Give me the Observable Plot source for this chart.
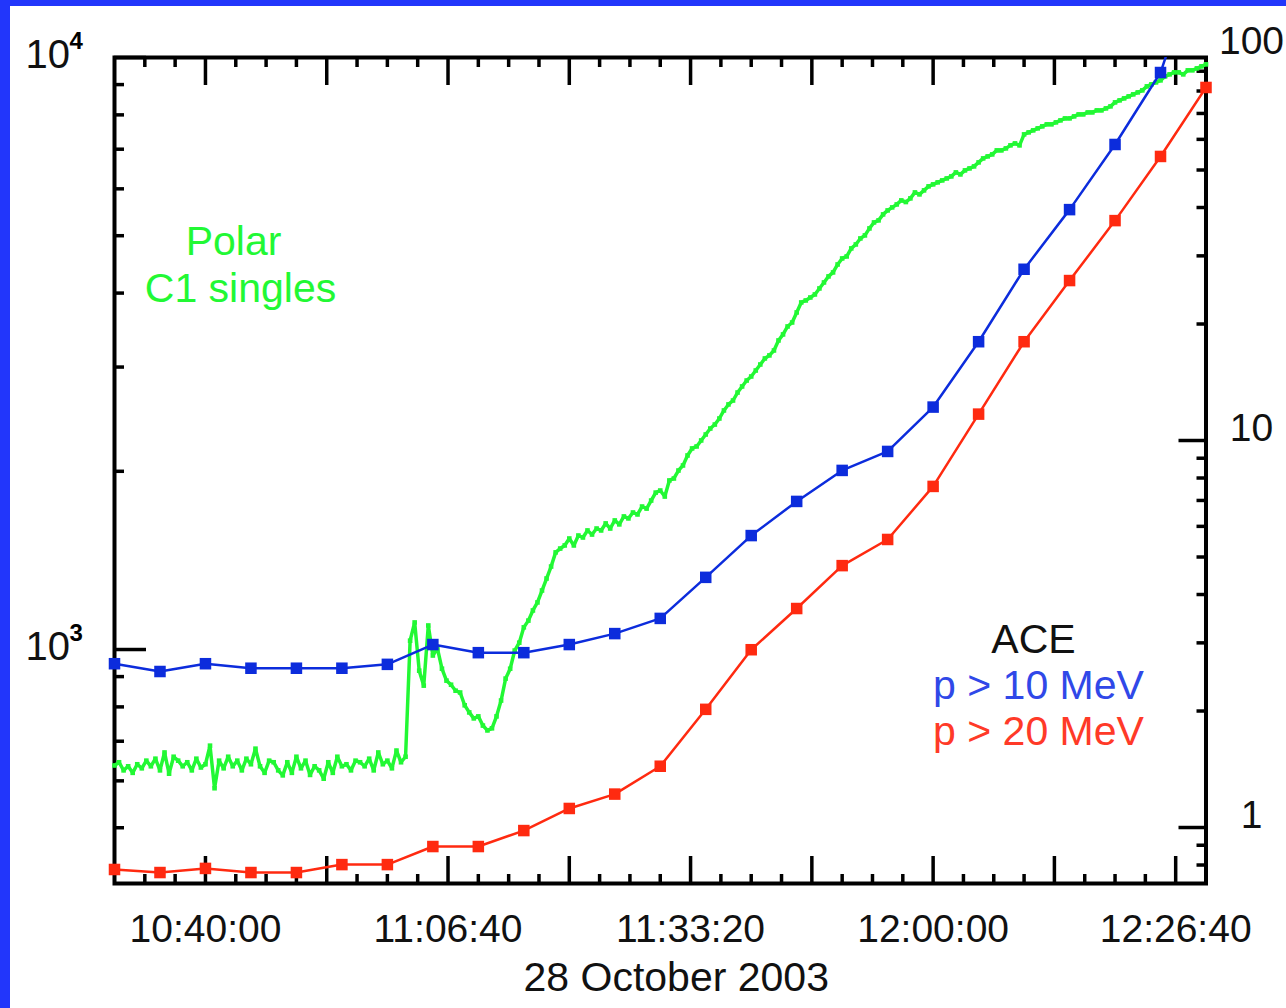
<!DOCTYPE html>
<html><head><meta charset="utf-8">
<script src="https://cdn.jsdelivr.net/npm/d3@7"></script>
<script src="https://cdn.jsdelivr.net/npm/@observablehq/plot@0.6"></script>
<style>
html,body{margin:0;padding:0;background:#fff;}
#wrap{position:relative;width:1286px;height:1008px;overflow:hidden;background:#fff;}
.bl{position:absolute;left:0;top:0;width:10px;height:1008px;background:#2236fb;}
.bt{position:absolute;left:0;top:0;width:1286px;height:6px;background:#2236fb;}
</style></head><body>
<div id="wrap"><div id="chart"></div><div class="bl"></div><div class="bt"></div></div>
<script>
// ---------- data ----------
const day = "2003-10-28";
const xDomain = ["10:30:00", "12:30:00"];

// ACE proton flux (right axis), 5-minute samples
const aceTimes = ["10:30","10:35","10:40","10:45","10:50","10:55","11:00","11:05","11:10","11:15",
  "11:20","11:25","11:30","11:35","11:40","11:45","11:50","11:55","12:00","12:05",
  "12:10","12:15","12:20","12:25","12:30"];
const aceP10 = [2.65,2.53,2.65,2.58,2.58,2.58,2.64,2.97,2.83,2.83,
  2.97,3.17,3.47,4.43,5.68,6.96,8.37,9.37,12.2,18.0,
  27.7,39.5,58.2,89.3,200];
const aceP20 = [0.779,0.765,0.784,0.765,0.765,0.802,0.802,0.893,0.893,0.982,
  1.12,1.22,1.44,2.02,2.88,3.68,4.75,5.55,7.61,11.7,
  18.0,25.9,37.0,54.2,81.7];

// Polar C1 singles (left axis), 30-second samples from 10:30:00
const polarStart = "10:30:00";
const polarStepSeconds = 30;
const polarCounts = [
  637,645,625,635,619,640,630,649,635,654,
  625,670,617,659,649,635,645,625,654,632,
  640,688,583,649,630,659,635,649,625,654,
  640,680,635,619,649,645,625,613,645,619,
  659,630,649,614,635,625,605,645,619,659,
  635,640,625,649,645,635,654,625,670,640,
  649,630,675,645,659,
  1035,1111,921,869,1098,977,1004,928,886,872,
  852,846,805,783,765,771,744,730,736,771,
  820,893,928,996,1027,1090,1119,1164,1201,1258,
  1318,1381,1459,1481,1499,
  1540,1499,1558,1546,1589,1564,1601,1589,1633,1601,
  1652,1627,1678,1665,1704,1691,1744,1730,1785,1841,
  1856,1813,1930,1945,2006,2046,2127,2186,2203,2255,
  2308,2362,2399,2456,2534,2594,2634,2717,2782,2847,
  2892,2960,3030,3102,3139,3200,3327,3406,3513,3568,
  3710,3857,3887,3932,3979,4073,4169,4268,4335,4471,
  4577,4613,4759,4833,4947,5006,5144,5265,5307,5432,
  5517,5582,5647,5736,5700,5781,5917,5872,5964,6058,
  6105,6153,6200,6248,6297,6396,6346,6446,6496,6547,
  6650,6754,6807,6860,6968,6968,7022,7105,7160,7105,
  7415,7473,7532,7591,7650,7710,7710,7770,7830,7891,
  7891,7953,8015,8015,8077,8077,8141,8141,8204,8269,
  8398,8464,8530,8597,8664,8731,8800,8938,9008,9078,
  9149,9293,9365,9438,9438,9365,9512,9512,9586,9661,
  9737];

// axes
const leftDomain = [402.5, 10000];
const rightDomain = [0.7167, 97.65];
const xLabelTicks = ["10:40:00","11:06:40","11:33:20","12:00:00","12:26:40"];
const xMajorTicks = ["10:40:00","10:53:20","11:06:40","11:20:00","11:33:20","11:46:40","12:00:00","12:13:20","12:26:40"];
const xMinorStepSeconds = 200;
const leftMajorTicks = [1000, 10000];
const leftLabelBase = "10";
const leftLabelExp = ["3", "4"];
const leftMinorTicks = [500,600,700,800,900,2000,3000,4000,5000,6000,7000,8000,9000];
const rightMajorTicks = [1, 10];
const rightLabels = [1, 10, 100];
const rightMinorTicks = [0.8,0.9,2,3,4,5,6,7,8,9,20,30,40,50,60,70,80,90];
const xTitle = "28 October 2003";
const polarLabel = ["Polar", "C1 singles"];
const aceLabel = ["ACE", "p > 10 MeV", "p > 20 MeV"];

// ---------- build ----------
const GREEN = "#22f834", BLUE = "#0c2cdc", RED = "#ff2a10", INK = "#111";
const parse = t => new Date(`${day}T${t.length === 5 ? t + ":00" : t}Z`);
const t0 = parse(xDomain[0]), t1 = parse(xDomain[1]);
const p0 = parse(polarStart);

const polar = polarCounts.map((v, i) => ({t: new Date(+p0 + i * polarStepSeconds * 1000), v}));
const ace = aceTimes.map((t, i) => ({t: parse(t), p10: aceP10[i], p20: aceP20[i]}));

// secondary (right) log axis mapped onto the left log scale
const L0 = Math.log10(leftDomain[0]), L1 = Math.log10(leftDomain[1]);
const R0 = Math.log10(rightDomain[0]), R1 = Math.log10(rightDomain[1]);
const rightToLeft = v => 10 ** (L0 + (Math.log10(v) - R0) / (R1 - R0) * (L1 - L0));

const xMajorDates = xMajorTicks.map(parse);
const majorSet = new Set(xMajorDates.map(d => +d));
const xMinorDates = d3.range(+t0, +t1 + 1, xMinorStepSeconds * 1000).filter(ms => !majorSet.has(ms) && ms > +t0 && ms < +t1).map(ms => new Date(ms));

const W = 1286, H = 1008, mL = 114, mR = 80.5, mT = 57, mB = 125;
const iW = W - mL - mR, iH = H - mT - mB;
const FONT = "'Liberation Sans', Arial, Helvetica, sans-serif";
const txt = {textAnchor: "middle", lineAnchor: "middle"};

const chart = Plot.plot({
  width: W, height: H,
  marginLeft: mL, marginRight: mR, marginTop: mT, marginBottom: mB,
  style: {background: "#fff", fontFamily: FONT, overflow: "visible"},
  x: {type: "utc", domain: [t0, t1], axis: null},
  y: {type: "log", domain: leftDomain, axis: null},
  marks: [
    // ticks (inward)
    Plot.tickX(xMajorDates, {x: d => d, insetTop: iH - 27, stroke: "#000", strokeWidth: 3.5}),
    Plot.tickX(xMajorDates, {x: d => d, insetBottom: iH - 28, stroke: "#000", strokeWidth: 3.5}),
    Plot.tickX(xMinorDates, {x: d => d, insetTop: iH - 9, stroke: "#000", strokeWidth: 3.5}),
    Plot.tickX(xMinorDates, {x: d => d, insetBottom: iH - 10, stroke: "#000", strokeWidth: 3.5}),
    Plot.tickY(leftMajorTicks, {y: d => d, insetRight: iW - 32, stroke: "#000", strokeWidth: 3.5}),
    Plot.tickY(leftMinorTicks, {y: d => d, insetRight: iW - 10, stroke: "#000", strokeWidth: 3.5}),
    Plot.tickY(rightMajorTicks, {y: d => rightToLeft(d), insetLeft: iW - 27, stroke: "#000", strokeWidth: 3.5}),
    Plot.tickY(rightMinorTicks, {y: d => rightToLeft(d), insetLeft: iW - 9, stroke: "#000", strokeWidth: 3.5}),
    Plot.frame({stroke: "#000", strokeWidth: 4}),

    // Polar C1 singles
    Plot.line(polar, {x: "t", y: "v", stroke: GREEN, strokeWidth: 3.5, clip: true}),
    Plot.dot(polar, {x: "t", y: "v", fill: GREEN, symbol: "square", r: 2.6}),

    // ACE p > 10 MeV
    Plot.line(ace, {x: "t", y: d => rightToLeft(d.p10), stroke: BLUE, strokeWidth: 2.5, clip: true}),
    Plot.dot(ace, {x: "t", y: d => rightToLeft(d.p10), fill: BLUE, symbol: "square", r: 6.5, filter: d => d.p10 <= rightDomain[1]}),
    // ACE p > 20 MeV
    Plot.line(ace, {x: "t", y: d => rightToLeft(d.p20), stroke: RED, strokeWidth: 2.5, clip: true}),
    Plot.dot(ace, {x: "t", y: d => rightToLeft(d.p20), fill: RED, symbol: "square", r: 6.5, filter: d => d.p20 <= rightDomain[1]}),

    // x tick labels + title
    Plot.text(xLabelTicks, {...txt, x: d => parse(d), text: d => d, frameAnchor: "bottom", dy: 46, fontSize: 39, fill: INK}),
    Plot.text([xTitle], {...txt, text: d => d, frameAnchor: "bottom", dx: 16, dy: 94, fontSize: 41, fill: INK}),

    // left labels 10^n
    Plot.text(leftMajorTicks, {y: d => d, text: () => leftLabelBase, frameAnchor: "left", textAnchor: "start", lineAnchor: "middle", dx: -89, dy: -2, fontSize: 40, fill: INK}),
    Plot.text(leftMajorTicks, {y: d => d, text: (d, i) => leftLabelExp[i], frameAnchor: "left", textAnchor: "start", lineAnchor: "middle", dx: -45, dy: -16, fontSize: 24, fontWeight: "bold", fill: "#000"}),

    // right labels
    Plot.text(rightLabels, {...txt, y: d => rightToLeft(d), text: d => String(d), frameAnchor: "right", dx: 45.5, dy: -12, fontSize: 39, fill: INK}),

    // annotations
    Plot.text([polarLabel[0]], {...txt, text: d => d, frameAnchor: "top-left", dx: 119, dy: 184, fontSize: 41, fill: GREEN}),
    Plot.text([polarLabel[1]], {...txt, text: d => d, frameAnchor: "top-left", dx: 126, dy: 231, fontSize: 41, fill: GREEN}),
    Plot.text([aceLabel[0]], {...txt, text: d => d, frameAnchor: "top-left", dx: 919, dy: 582, fontSize: 41, fill: INK}),
    Plot.text([aceLabel[1]], {...txt, text: d => d, frameAnchor: "top-left", dx: 924, dy: 628, fontSize: 41, fill: "#3048e8"}),
    Plot.text([aceLabel[2]], {...txt, text: d => d, frameAnchor: "top-left", dx: 924, dy: 674, fontSize: 41, fill: "#ff3a28"})
  ]
});
document.getElementById("chart").appendChild(chart);
</script>
</body></html>
